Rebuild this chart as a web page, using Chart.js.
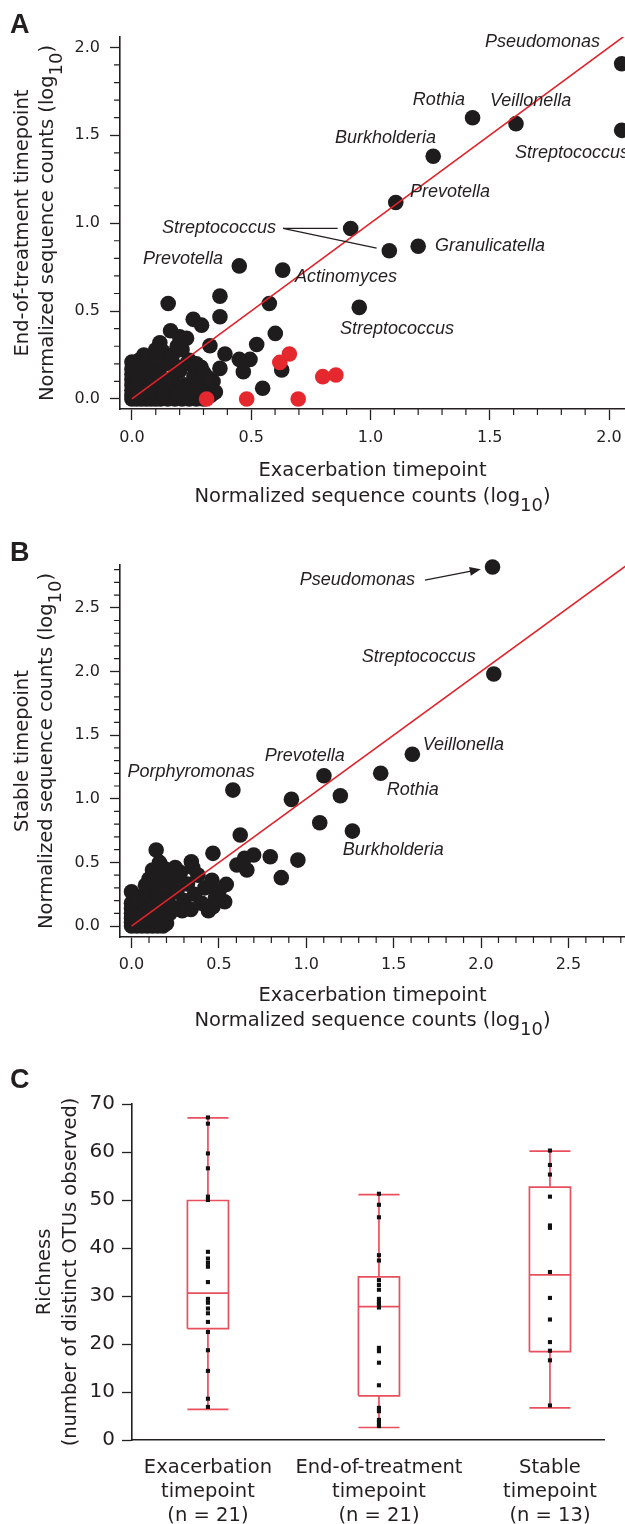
<!DOCTYPE html>
<html>
<head>
<meta charset="utf-8">
<script src="https://cdn.jsdelivr.net/npm/chart.js@4.4.1/dist/chart.umd.min.js"></script>
<style>
  html, body { margin: 0; padding: 0; background: #fff; }
  #figure { position: relative; width: 625px; height: 1524px; overflow: hidden; background: #fff; }
  #figure canvas { position: absolute; left: 0; top: 0; }
</style>
</head>
<body>
<div id="figure">
  <canvas id="panelA" width="625" height="1524"></canvas>
  <canvas id="panelB" width="625" height="1524"></canvas>
  <canvas id="panelC" width="625" height="1524"></canvas>
</div>
<script>
// ---------- Panel A: exacerbation vs end-of-treatment (log10 normalised counts) ----------
const taxaA      = ['Pseudomonas', 'Streptococcus', 'Rothia', 'Veillonella', 'Burkholderia', 'Prevotella',
                    'Streptococcus', 'Streptococcus', 'Granulicatella', 'Prevotella', 'Actinomyces', 'Streptococcus'];
const taxaExacA  = [2.053, 2.053, 1.428, 1.610, 1.263, 1.106, 0.917, 1.079, 1.200, 0.450, 0.632, 0.953];
const taxaEndA   = [1.907, 1.528, 1.600, 1.566, 1.381, 1.118, 0.970, 0.843, 0.869, 0.757, 0.733, 0.521];

const otherExacA = [0.576, 0.601, 0.523, 0.369, 0.369, 0.152, 0.257, 0.292, 0.162, 0.200, 0.229, 0.117, 0.327,
                    0.390, 0.369, 0.450, 0.495, 0.467, 0.548, 0.628, 0.341,
                    0.00, 0.02, 0.04, 0.06, 0.08, 0.10, 0.12, 0.15, 0.18, 0.21, 0.24, 0.27, 0.30,
                    0.00, 0.00, 0.00, 0.00, 0.00, 0.00, 0.00,
                    0.03, 0.05, 0.02, 0.07, 0.04, 0.09, 0.11, 0.13, 0.10, 0.06, 0.08, 0.12, 0.14, 0.16,
                    0.17, 0.19, 0.20, 0.22, 0.23, 0.25, 0.26, 0.28, 0.29, 0.31, 0.33, 0.13, 0.11, 0.17,
                    0.19, 0.03, 0.15, 0.24, 0.27, 0.30, 0.34, 0.35, 0.32, 0.21, 0.18, 0.05, 0.10];
const otherEndA  = [0.543, 0.373, 0.310, 0.585, 0.468, 0.543, 0.453, 0.420, 0.388, 0.354, 0.345, 0.320, 0.303,
                    0.256, 0.174, 0.225, 0.225, 0.155, 0.061, 0.165, 0.032,
                    0.00, 0.00, 0.00, 0.00, 0.00, 0.00, 0.00, 0.00, 0.00, 0.00, 0.00, 0.00, 0.00,
                    0.02, 0.05, 0.08, 0.11, 0.14, 0.17, 0.21,
                    0.03, 0.06, 0.10, 0.12, 0.15, 0.04, 0.08, 0.03, 0.16, 0.19, 0.24, 0.13, 0.20, 0.07,
                    0.12, 0.03, 0.16, 0.08, 0.20, 0.05, 0.13, 0.10, 0.18, 0.06, 0.02, 0.27, 0.22, 0.25,
                    0.30, 0.22, 0.10, 0.22, 0.20, 0.15, 0.10, 0.04, 0.12, 0.28, 0.19, 0.25, 0.28];

// taxa highlighted in red
const redExacA = [0.313, 0.481, 0.697, 0.620, 0.660, 0.800, 0.855];
const redEndA  = [0.000, 0.000, 0.000, 0.208, 0.256, 0.127, 0.136];

// ---------- Panel B: exacerbation vs stable (log10 normalised counts) ----------
const taxaB       = ['Pseudomonas', 'Streptococcus', 'Veillonella', 'Rothia', 'Prevotella', 'Porphyromonas', 'Burkholderia'];
const taxaExacB   = [2.066, 2.073, 1.607, 1.426, 1.101, 0.580, 1.264];
const taxaStableB = [2.820, 1.980, 1.349, 1.200, 1.181, 1.068, 0.746];

const otherExacB   = [0.915, 1.195, 1.077, 0.622, 0.466, 0.952, 0.794, 0.857, 0.699, 0.647, 0.603, 0.660, 0.141,
                      0.342, 0.542, 0.466, 0.533,
                      0.00, 0.03, 0.06, 0.09, 0.12, 0.15, 0.18, 0.20,
                      0.00, 0.00, 0.00, 0.00, 0.00, 0.00,
                      0.03, 0.05, 0.08, 0.10, 0.04, 0.07, 0.12, 0.14, 0.11, 0.09, 0.06, 0.15, 0.17, 0.19,
                      0.21, 0.13, 0.17, 0.20, 0.23, 0.24, 0.26, 0.28, 0.30, 0.32, 0.34, 0.36, 0.38, 0.40,
                      0.42, 0.44, 0.46, 0.48, 0.50, 0.25, 0.19, 0.10, 0.29, 0.35, 0.12, 0.16, 0.22, 0.03, 0.08];
const otherStableB = [0.995, 1.024, 0.812, 0.715, 0.571, 0.518, 0.544, 0.380, 0.558, 0.532, 0.479, 0.440, 0.597,
                      0.505, 0.327, 0.152, 0.191,
                      0.00, 0.00, 0.00, 0.00, 0.00, 0.00, 0.00, 0.02,
                      0.03, 0.06, 0.10, 0.14, 0.18, 0.27,
                      0.04, 0.08, 0.05, 0.10, 0.14, 0.17, 0.06, 0.13, 0.20, 0.27, 0.23, 0.25, 0.18, 0.10,
                      0.22, 0.33, 0.38, 0.30, 0.15, 0.36, 0.27, 0.42, 0.20, 0.33, 0.13, 0.25, 0.40, 0.18,
                      0.30, 0.12, 0.36, 0.22, 0.27, 0.46, 0.45, 0.37, 0.12, 0.46, 0.44, 0.50, 0.10, 0.20, 0.32];

// ---------- Panel C: richness per timepoint ----------
const groupLines   = [['Exacerbation', 'timepoint'], ['End-of-treatment', 'timepoint'], ['Stable', 'timepoint']];
const groupN       = [21, 21, 13];
const whiskerLow   = [6.4, 2.6, 6.7];
const quartile1    = [23.2, 9.2, 18.4];
const medians      = [30.6, 27.8, 34.4];
const quartile3    = [49.9, 34.0, 52.7];
const whiskerHigh  = [67.1, 51.1, 60.2];
const richExac   = [67.2, 65.9, 59.7, 56.6, 50.7, 50.0, 39.2, 37.8, 36.9, 36.1, 32.9, 29.4, 28.6, 27.4, 26.4,
                    24.6, 22.5, 18.7, 14.4, 8.6, 6.9];
const richEnd    = [51.3, 49.0, 46.4, 38.5, 37.4, 33.3, 32.3, 31.3, 29.4, 28.7, 28.3, 27.6, 19.2, 18.5, 16.1,
                    11.4, 6.7, 6.0, 4.2, 3.6, 2.9];
const richStable = [60.3, 57.3, 55.3, 50.7, 44.7, 44.2, 35.0, 29.6, 25.1, 20.4, 18.6, 16.6, 7.2];

// ---------- shared styling ----------
const ink = '#231f20';
const dotBlack = '#1e1c1d';
const dotRed = '#e5282e';
const lineRed = '#e3222a';
const boxRed = '#e8505e';
const upright = '"DejaVu Sans", sans-serif';
const italicFont = 'italic 18px "Liberation Sans", Arial, sans-serif';

Chart.defaults.font.family = upright;
Chart.defaults.color = ink;

const toPoints = (xs, ys) => xs.map((x, i) => ({ x, y: ys[i] }));
const fixedTicks = values => scale => { scale.ticks = values.map(v => ({ value: v })); };
const stepValues = (from, to, step) => {
  const out = [];
  for (let k = Math.round(from / step); k * step <= to + 1e-9; k++) out.push(+(k * step).toFixed(4));
  return out;
};
const minorOf = (from, to, majorStep) =>
  stepValues(from, to, 0.1).filter(v => Math.abs(v / majorStep - Math.round(v / majorStep)) > 1e-6);

// keep the plot area at its set size: no extra room reserved for edge labels
const fitX = h => s => { s.height = h; s.paddingLeft = 0; s.paddingRight = 0; };
const fitY = w => s => { s.width = w; s.paddingTop = 0; s.paddingBottom = 0; };

// minor tick marks along the axes, placed from the chart's own scales
const minorTicks = {
  id: 'minorTicks',
  afterDraw(chart, args, opts) {
    if (!opts || !opts.len) return;
    const { ctx, chartArea, scales } = chart;
    ctx.save();
    ctx.strokeStyle = ink;
    ctx.lineWidth = 1.2;
    ctx.beginPath();
    (opts.x || []).forEach(v => {
      const p = scales.x.getPixelForValue(v);
      ctx.moveTo(p, chartArea.bottom);
      ctx.lineTo(p, chartArea.bottom + opts.len);
    });
    (opts.y || []).forEach(v => {
      const p = scales.y.getPixelForValue(v);
      ctx.moveTo(chartArea.left, p);
      ctx.lineTo(chartArea.left - opts.len, p);
    });
    ctx.stroke();
    ctx.restore();
  }
};

// italic taxon names beside their points, with optional leader lines / arrow
const taxonLabels = {
  id: 'taxonLabels',
  afterDatasetsDraw(chart, args, opts) {
    if (!opts || !opts.items) return;
    const { ctx, scales: { x, y } } = chart;
    const px = i => x.getPixelForValue(opts.xs[i]);
    const py = i => y.getPixelForValue(opts.ys[i]);
    ctx.save();
    ctx.font = italicFont;
    ctx.fillStyle = ink;
    ctx.strokeStyle = ink;
    ctx.lineWidth = 1.3;
    ctx.textBaseline = 'middle';
    ctx.textAlign = 'left';
    opts.items.forEach(it => {
      const tx = px(it.i) + it.dx, ty = py(it.i) + it.dy;
      const text = opts.names[it.i];
      ctx.fillText(text, tx, ty);
      const w = ctx.measureText(text).width;
      const sx = tx + w + it.gap, sy = ty;
      (it.leaders || []).forEach(j => {
        const ex = px(j), ey = py(j);
        const d = Math.hypot(ex - sx, ey - sy);
        const k = (d - it.stop) / d;
        ctx.beginPath();
        ctx.moveTo(sx, sy);
        ctx.lineTo(sx + (ex - sx) * k, sy + (ey - sy) * k);
        ctx.stroke();
      });
      if (it.arrow) {
        const ex0 = px(it.i), ey0 = py(it.i);
        const d = Math.hypot(ex0 - sx, ey0 - sy);
        const ux = (ex0 - sx) / d, uy = (ey0 - sy) / d;
        const ex = ex0 - ux * it.stop, ey = ey0 - uy * it.stop;
        ctx.beginPath();
        ctx.moveTo(sx, sy);
        ctx.lineTo(ex - ux * 6, ey - uy * 6);
        ctx.stroke();
        ctx.beginPath();
        ctx.moveTo(ex, ey);
        ctx.lineTo(ex - ux * 11 - uy * 4.5, ey - uy * 11 + ux * 4.5);
        ctx.lineTo(ex - ux * 11 + uy * 4.5, ey - uy * 11 - ux * 4.5);
        ctx.closePath();
        ctx.fill();
      }
    });
    ctx.restore();
  }
};

// axis titles (with a log subscript) and the panel letter
const panelText = {
  id: 'panelText',
  afterDraw(chart, args, opts) {
    if (!opts) return;
    const { ctx, chartArea } = chart;
    const drawParts = (parts, cx, base, size) => {
      const fN = `${size}px ${upright}`, fS = `${size * 0.92}px ${upright}`;
      let w = 0;
      const ms = parts.map(p => { ctx.font = p.sub ? fS : fN; const m = ctx.measureText(p.t).width; w += m; return m; });
      let x = cx - w / 2;
      parts.forEach((p, k) => {
        ctx.font = p.sub ? fS : fN;
        ctx.fillText(p.t, x, base + (p.sub ? size * 0.46 : 0));
        x += ms[k];
      });
    };
    ctx.save();
    ctx.fillStyle = ink;
    ctx.textBaseline = 'alphabetic';
    ctx.textAlign = 'left';
    const cx = (chartArea.left + chartArea.right) / 2;
    const cy = (chartArea.top + chartArea.bottom) / 2;
    (opts.xTitle || []).forEach(l => drawParts(l.parts, cx, l.base, l.size));
    (opts.yTitle || []).forEach(l => {
      ctx.save();
      ctx.translate(l.base, cy);
      ctx.rotate(-Math.PI / 2);
      drawParts(l.parts, 0, 0, l.size);
      ctx.restore();
    });
    if (opts.letter) {
      ctx.font = 'bold 27px "Liberation Sans", Arial, sans-serif';
      ctx.fillText(opts.letter.t, opts.letter.x, opts.letter.y);
    }
    ctx.restore();
  }
};

const countsTitle = [{ t: 'Normalized sequence counts (log' }, { t: '10', sub: true }, { t: ')' }];

function axisStyle(tickLength) {
  return {
    grid: { display: true, drawOnChartArea: false, drawTicks: true, tickLength, tickWidth: 1.3, tickColor: ink },
    border: { display: true, color: ink, width: 1.6 }
  };
}

function scatterChart(id, cfg) {
  return new Chart(document.getElementById(id), {
    type: 'scatter',
    data: { datasets: cfg.datasets },
    options: {
      responsive: false,
      animation: false,
      events: [],
      devicePixelRatio: 1,
      layout: { padding: cfg.padding, autoPadding: false },
      plugins: {
        legend: { display: false },
        tooltip: { enabled: false },
        minorTicks: cfg.minor,
        taxonLabels: cfg.labels,
        panelText: cfg.text
      },
      scales: {
        x: Object.assign({
          type: 'linear', min: cfg.x.min, max: cfg.x.max,
          afterBuildTicks: fixedTicks(cfg.x.major),
          afterFit: fitX(cfg.x.height),
          ticks: { callback: v => v.toFixed(1), font: { size: 16 }, color: ink, padding: cfg.x.pad, autoSkip: false, maxRotation: 0 }
        }, axisStyle(11)),
        y: Object.assign({
          type: 'linear', min: cfg.y.min, max: cfg.y.max,
          afterBuildTicks: fixedTicks(cfg.y.major),
          afterFit: fitY(120),
          ticks: { callback: v => v.toFixed(1), font: { size: 16 }, color: ink, padding: 10, autoSkip: false }
        }, axisStyle(10))
      }
    },
    plugins: [minorTicks, taxonLabels, panelText]
  });
}

const pointStyle = (data, color, order) => ({
  data, backgroundColor: color, borderWidth: 0, pointRadius: 7.8, pointHoverRadius: 7.8, order, clip: false
});

// ---------- Panel A ----------
scatterChart('panelA', {
  padding: { left: 0, right: 0, top: 37, bottom: 1524 - 409 - 40 },
  x: { min: -0.05, max: 2.067, major: [0, 0.5, 1, 1.5, 2], height: 40, pad: 8 },
  y: { min: -0.057, max: 2.059, major: [0, 0.5, 1, 1.5, 2] },
  datasets: [
    { data: [{ x: 0, y: 0 }, { x: 2.07, y: 2.07 }], showLine: true, pointRadius: 0, borderColor: lineRed, borderWidth: 1.6, order: 0 },
    pointStyle(toPoints(redExacA, redEndA), dotRed, 1),
    pointStyle(toPoints(otherExacA, otherEndA).concat(toPoints(taxaExacA, taxaEndA)), dotBlack, 2)
  ],
  minor: { len: 6, x: minorOf(0, 2.0, 0.5), y: minorOf(0, 2.0, 0.5) },
  labels: {
    names: taxaA, xs: taxaExacA, ys: taxaEndA,
    items: [
      { i: 0, dx: -136.7, dy: -21.3 },
      { i: 1, dx: -106.7, dy: 23 },
      { i: 2, dx: -59.7, dy: -17.3 },
      { i: 3, dx: -26, dy: -22.3 },
      { i: 4, dx: -98.3, dy: -18.3 },
      { i: 5, dx: 14.3, dy: -10.6 },
      { i: 6, dx: -188.7, dy: 0, gap: 7, stop: 13, leaders: [6, 7] },
      { i: 8, dx: 16.7, dy: 0 },
      { i: 9, dx: -96.3, dy: -6.7 },
      { i: 10, dx: 12.3, dy: 7 },
      { i: 11, dx: -19.3, dy: 21.7 }
    ]
  },
  text: {
    letter: { t: 'A', x: 10, y: 33 },
    xTitle: [
      { parts: [{ t: 'Exacerbation timepoint' }], base: 475.5, size: 19.5 },
      { parts: countsTitle, base: 501.7, size: 19.5 }
    ],
    yTitle: [
      { parts: [{ t: 'End-of-treatment timepoint' }], base: 28, size: 19.5 },
      { parts: countsTitle, base: 53, size: 19.5 }
    ]
  }
});

// ---------- Panel B ----------
scatterChart('panelB', {
  padding: { left: 0, right: 0, top: 565, bottom: 1524 - 937 - 40 },
  x: { min: -0.066, max: 2.824, major: [0, 0.5, 1, 1.5, 2, 2.5], height: 40, pad: 7 },
  y: { min: -0.086, max: 2.836, major: [0, 0.5, 1, 1.5, 2, 2.5] },
  datasets: [
    { data: [{ x: 0, y: 0 }, { x: 2.83, y: 2.83 }], showLine: true, pointRadius: 0, borderColor: lineRed, borderWidth: 1.6, order: 0 },
    pointStyle(toPoints(otherExacB, otherStableB).concat(toPoints(taxaExacB, taxaStableB)), dotBlack, 2)
  ],
  minor: { len: 6, x: minorOf(0, 2.8, 0.5), y: minorOf(0, 2.8, 0.5) },
  labels: {
    names: taxaB, xs: taxaExacB, ys: taxaStableB,
    items: [
      { i: 0, dx: -192.7, dy: 13, gap: 10, stop: 12, arrow: true },
      { i: 1, dx: -132, dy: -17 },
      { i: 2, dx: 10.4, dy: -9.3 },
      { i: 3, dx: 6, dy: 16.8 },
      { i: 4, dx: -59.2, dy: -19.7 },
      { i: 5, dx: -105.3, dy: -18 },
      { i: 6, dx: -9.7, dy: 19 }
    ]
  },
  text: {
    letter: { t: 'B', x: 10, y: 561 },
    xTitle: [
      { parts: [{ t: 'Exacerbation timepoint' }], base: 1000.5, size: 19.5 },
      { parts: countsTitle, base: 1025.7, size: 19.5 }
    ],
    yTitle: [
      { parts: [{ t: 'Stable timepoint' }], base: 28, size: 19.5 },
      { parts: countsTitle, base: 52, size: 19.5 }
    ]
  }
});

// ---------- Panel C: box plots with individual samples ----------
const boxHalf = 0.12;
const boxDatasets = [];
groupLines.forEach((g, i) => {
  const c = i + 1;
  const segments = [
    [[c - boxHalf, quartile1[i]], [c + boxHalf, quartile1[i]], [c + boxHalf, quartile3[i]], [c - boxHalf, quartile3[i]], [c - boxHalf, quartile1[i]]],
    [[c - boxHalf, medians[i]], [c + boxHalf, medians[i]]],
    [[c, whiskerLow[i]], [c, quartile1[i]]],
    [[c, quartile3[i]], [c, whiskerHigh[i]]],
    [[c - boxHalf, whiskerLow[i]], [c + boxHalf, whiskerLow[i]]],
    [[c - boxHalf, whiskerHigh[i]], [c + boxHalf, whiskerHigh[i]]]
  ];
  segments.forEach(seg => boxDatasets.push({
    data: seg.map(([x, y]) => ({ x, y })), showLine: true, pointRadius: 0,
    borderColor: boxRed, borderWidth: 1.7, borderJoinStyle: 'miter', order: 1, clip: false
  }));
});
const sampleSets = [richExac, richEnd, richStable].map((vals, i) => ({
  data: vals.map(v => ({ x: i + 1, y: v })), pointStyle: 'rect', pointRadius: 2.9,
  backgroundColor: '#111', borderWidth: 0, order: 0, clip: false
}));
const categoryLabels = groupLines.map((lines, i) => lines.concat(`(n = ${groupN[i]})`));

new Chart(document.getElementById('panelC'), {
  type: 'scatter',
  data: { datasets: boxDatasets.concat(sampleSets) },
  options: {
    responsive: false,
    animation: false,
    events: [],
    devicePixelRatio: 1,
    layout: { padding: { left: 0, right: 21, top: 1104, bottom: 0 }, autoPadding: false },
    plugins: {
      legend: { display: false },
      tooltip: { enabled: false },
      panelText: {
        letter: { t: 'C', x: 10, y: 1088 },
        yTitle: [
          { parts: [{ t: 'Richness' }], base: 50, size: 19.5 },
          { parts: [{ t: '(number of distinct OTUs observed)' }], base: 76, size: 19.5 }
        ]
      }
    },
    scales: {
      x: {
        type: 'linear', min: 0.556, max: 3.316,
        afterBuildTicks: fixedTicks([1, 2, 3]),
        afterFit: fitX(84),
        ticks: { callback: v => categoryLabels[v - 1], font: { size: 19.5, lineHeight: 1.22 }, color: ink, padding: 8, autoSkip: false, maxRotation: 0 },
        grid: { display: false },
        border: { display: true, color: ink, width: 1.6 }
      },
      y: Object.assign({
        type: 'linear', min: 0, max: 70,
        afterBuildTicks: fixedTicks([0, 10, 20, 30, 40, 50, 60, 70]),
        afterFit: fitY(132),
        ticks: { font: { size: 20 }, color: ink, padding: 7, autoSkip: false }
      }, axisStyle(10))
    }
  },
  plugins: [panelText]
});
</script>
</body>
</html>
